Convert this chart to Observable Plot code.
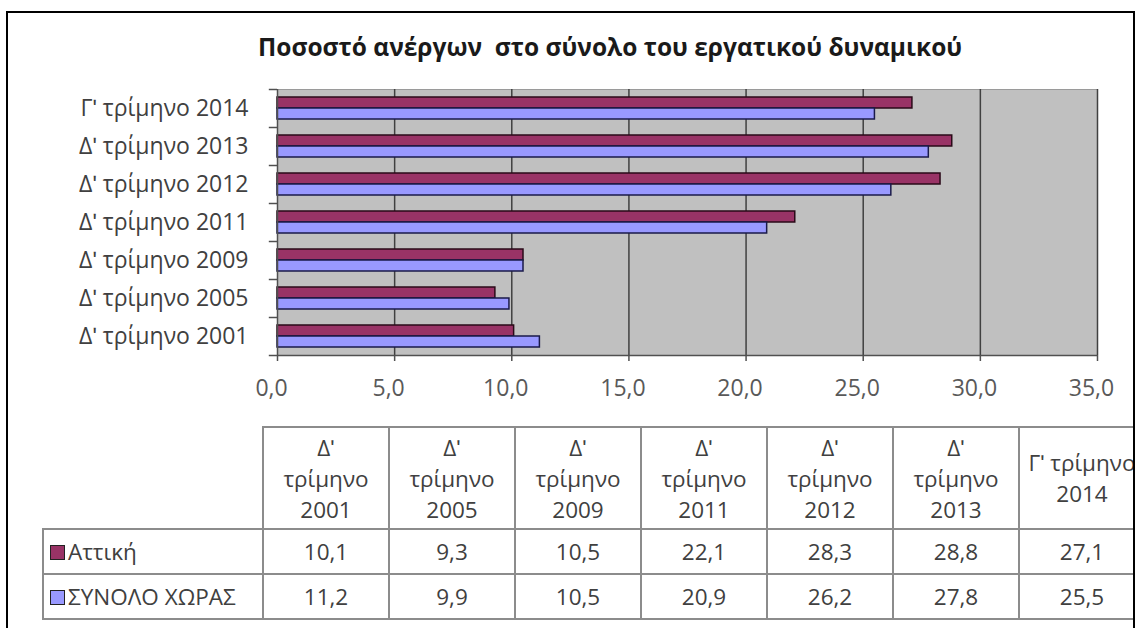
<!DOCTYPE html>
<html><head><meta charset="utf-8">
<script src="https://cdn.jsdelivr.net/npm/d3@7"></script>
<script src="https://cdn.jsdelivr.net/npm/@observablehq/plot@0.6"></script>
<style>
html,body{margin:0;padding:0;background:#fff;width:1137px;height:628px;overflow:hidden;font-family:"Open Sans",sans-serif;}
#frame{position:absolute;left:6px;top:11px;width:1125px;height:700px;border:2.5px solid #000;pointer-events:none;z-index:5;}
#title{position:absolute;left:258px;top:30px;font-weight:bold;font-size:24.5px;color:#1a1a1a;white-space:pre;}
#chart{position:absolute;left:0;top:80px;}
#tablewrap{position:absolute;left:0;top:426px;width:1133px;height:210px;overflow:hidden;}
table{position:absolute;left:42px;top:0;border-collapse:collapse;table-layout:fixed;width:1102px;font-size:22.5px;color:#404040;}
td{border:2px solid #8c8c8c;text-align:center;padding:0;overflow:hidden;}
td.hdr{height:100px;line-height:31px;vertical-align:middle;white-space:nowrap;}
td.empty{border:none;border-right:2px solid #8c8c8c;border-bottom:2px solid #8c8c8c;}
td.lab{text-align:left;padding-left:6px;white-space:nowrap;}
tr.data td{height:43px;}
.sw{display:inline-block;width:13px;height:13px;border:1.5px solid #222;vertical-align:0px;margin-right:3px;}
</style></head>
<body>
<div id="frame"></div>
<div id="title"></div>
<div id="chart"></div>
<div id="tablewrap"></div>
<script>
const titleText = "Ποσοστό ανέργων  στο σύνολο του εργατικού δυναμικού";
const categories = ["Δʹ τρίμηνο 2001","Δʹ τρίμηνο 2005","Δʹ τρίμηνο 2009","Δʹ τρίμηνο 2011","Δʹ τρίμηνο 2012","Δʹ τρίμηνο 2013","Γʹ τρίμηνο 2014"];
const headerLines = [["Δʹ","τρίμηνο","2001"],["Δʹ","τρίμηνο","2005"],["Δʹ","τρίμηνο","2009"],["Δʹ","τρίμηνο","2011"],["Δʹ","τρίμηνο","2012"],["Δʹ","τρίμηνο","2013"],["Γʹ τρίμηνο","2014"]];
const seriesNames = ["Αττική","ΣΥΝΟΛΟ ΧΩΡΑΣ"];
const attiki = [10.1,9.3,10.5,22.1,28.3,28.8,27.1];
const synolo = [11.2,9.9,10.5,20.9,26.2,27.8,25.5];
const xTicks = [0,5,10,15,20,25,30,35];
const colors = ["#993366","#9999FF"];
const strokes = ["#2a0a18","#1a1a4a"];

document.getElementById("title").textContent = titleText;

const fmt = d => d.toFixed(1).replace(".", ",");
const rowsA = categories.map((c,i)=>({cat:c, v:attiki[i]}));
const rowsS = categories.map((c,i)=>({cat:c, v:synolo[i]}));
const yDomain = categories.slice().reverse();

const chart = Plot.plot({
  width: 1137, height: 326,
  marginLeft: 277, marginRight: 40, marginTop: 9, marginBottom: 51,
  x: {domain:[0,35], ticks: xTicks, tickFormat: fmt, label: null},
  y: {domain: yDomain, padding: 0, label: null},
  style: {fontFamily: "'Open Sans', sans-serif", background: "transparent"},
  marks: [
    Plot.frame({fill:"#c0c0c0", stroke:"#9a9a9a"}),
    Plot.gridX(xTicks.slice(1), {stroke:"#404040", strokeOpacity:1, strokeWidth:1.5}),
    Plot.barX(rowsA, {y:"cat", x:"v", fill:colors[0], stroke:strokes[0], strokeWidth:1.5, insetTop:8, insetBottom:19}),
    Plot.barX(rowsS, {y:"cat", x:"v", fill:colors[1], stroke:strokes[1], strokeWidth:1.5, insetTop:19, insetBottom:8}),
    Plot.ruleX([0], {stroke:"#505050", strokeWidth:1.5}),
    Plot.ruleY(categories, {y: d=>d, x1:-0.35, x2:0, dy:-19, stroke:"#505050", strokeWidth:1.5}),
    Plot.ruleY([categories[0]], {y: d=>d, x1:-0.35, x2:35, dy:19, stroke:"#505050", strokeWidth:1.5}),
    Plot.axisX({ticks: xTicks, tickSize:6, text: null, stroke:"#505050", strokeWidth:1.5, label: null}),
    Plot.axisX({ticks: xTicks, tickFormat: fmt, tickSize:0, tickPadding:24, dx:-6, fontSize:23, color:"#595959", label: null}),
    Plot.axisY({tickSize:0, tickPadding:29, fontSize:23, color:"#404040", label: null})
  ]
});
document.getElementById("chart").appendChild(chart);

// data table
let html = "<table><colgroup><col style='width:220px'>" + headerLines.map(()=>"<col style='width:126px'>").join("") + "</colgroup><tr><td class='empty'></td>";
headerLines.forEach(l => { html += "<td class='hdr'>" + l.join("<br>") + "</td>"; });
html += "</tr>";
[attiki, synolo].forEach((vals, s) => {
  html += "<tr class='data'><td class='lab'><span class='sw' style='background:" + colors[s] + "'></span>" + seriesNames[s] + "</td>";
  vals.forEach(v => { html += "<td>" + fmt(v) + "</td>"; });
  html += "</tr>";
});
html += "</table>";
document.getElementById("tablewrap").innerHTML = html;
</script>
</body></html>
